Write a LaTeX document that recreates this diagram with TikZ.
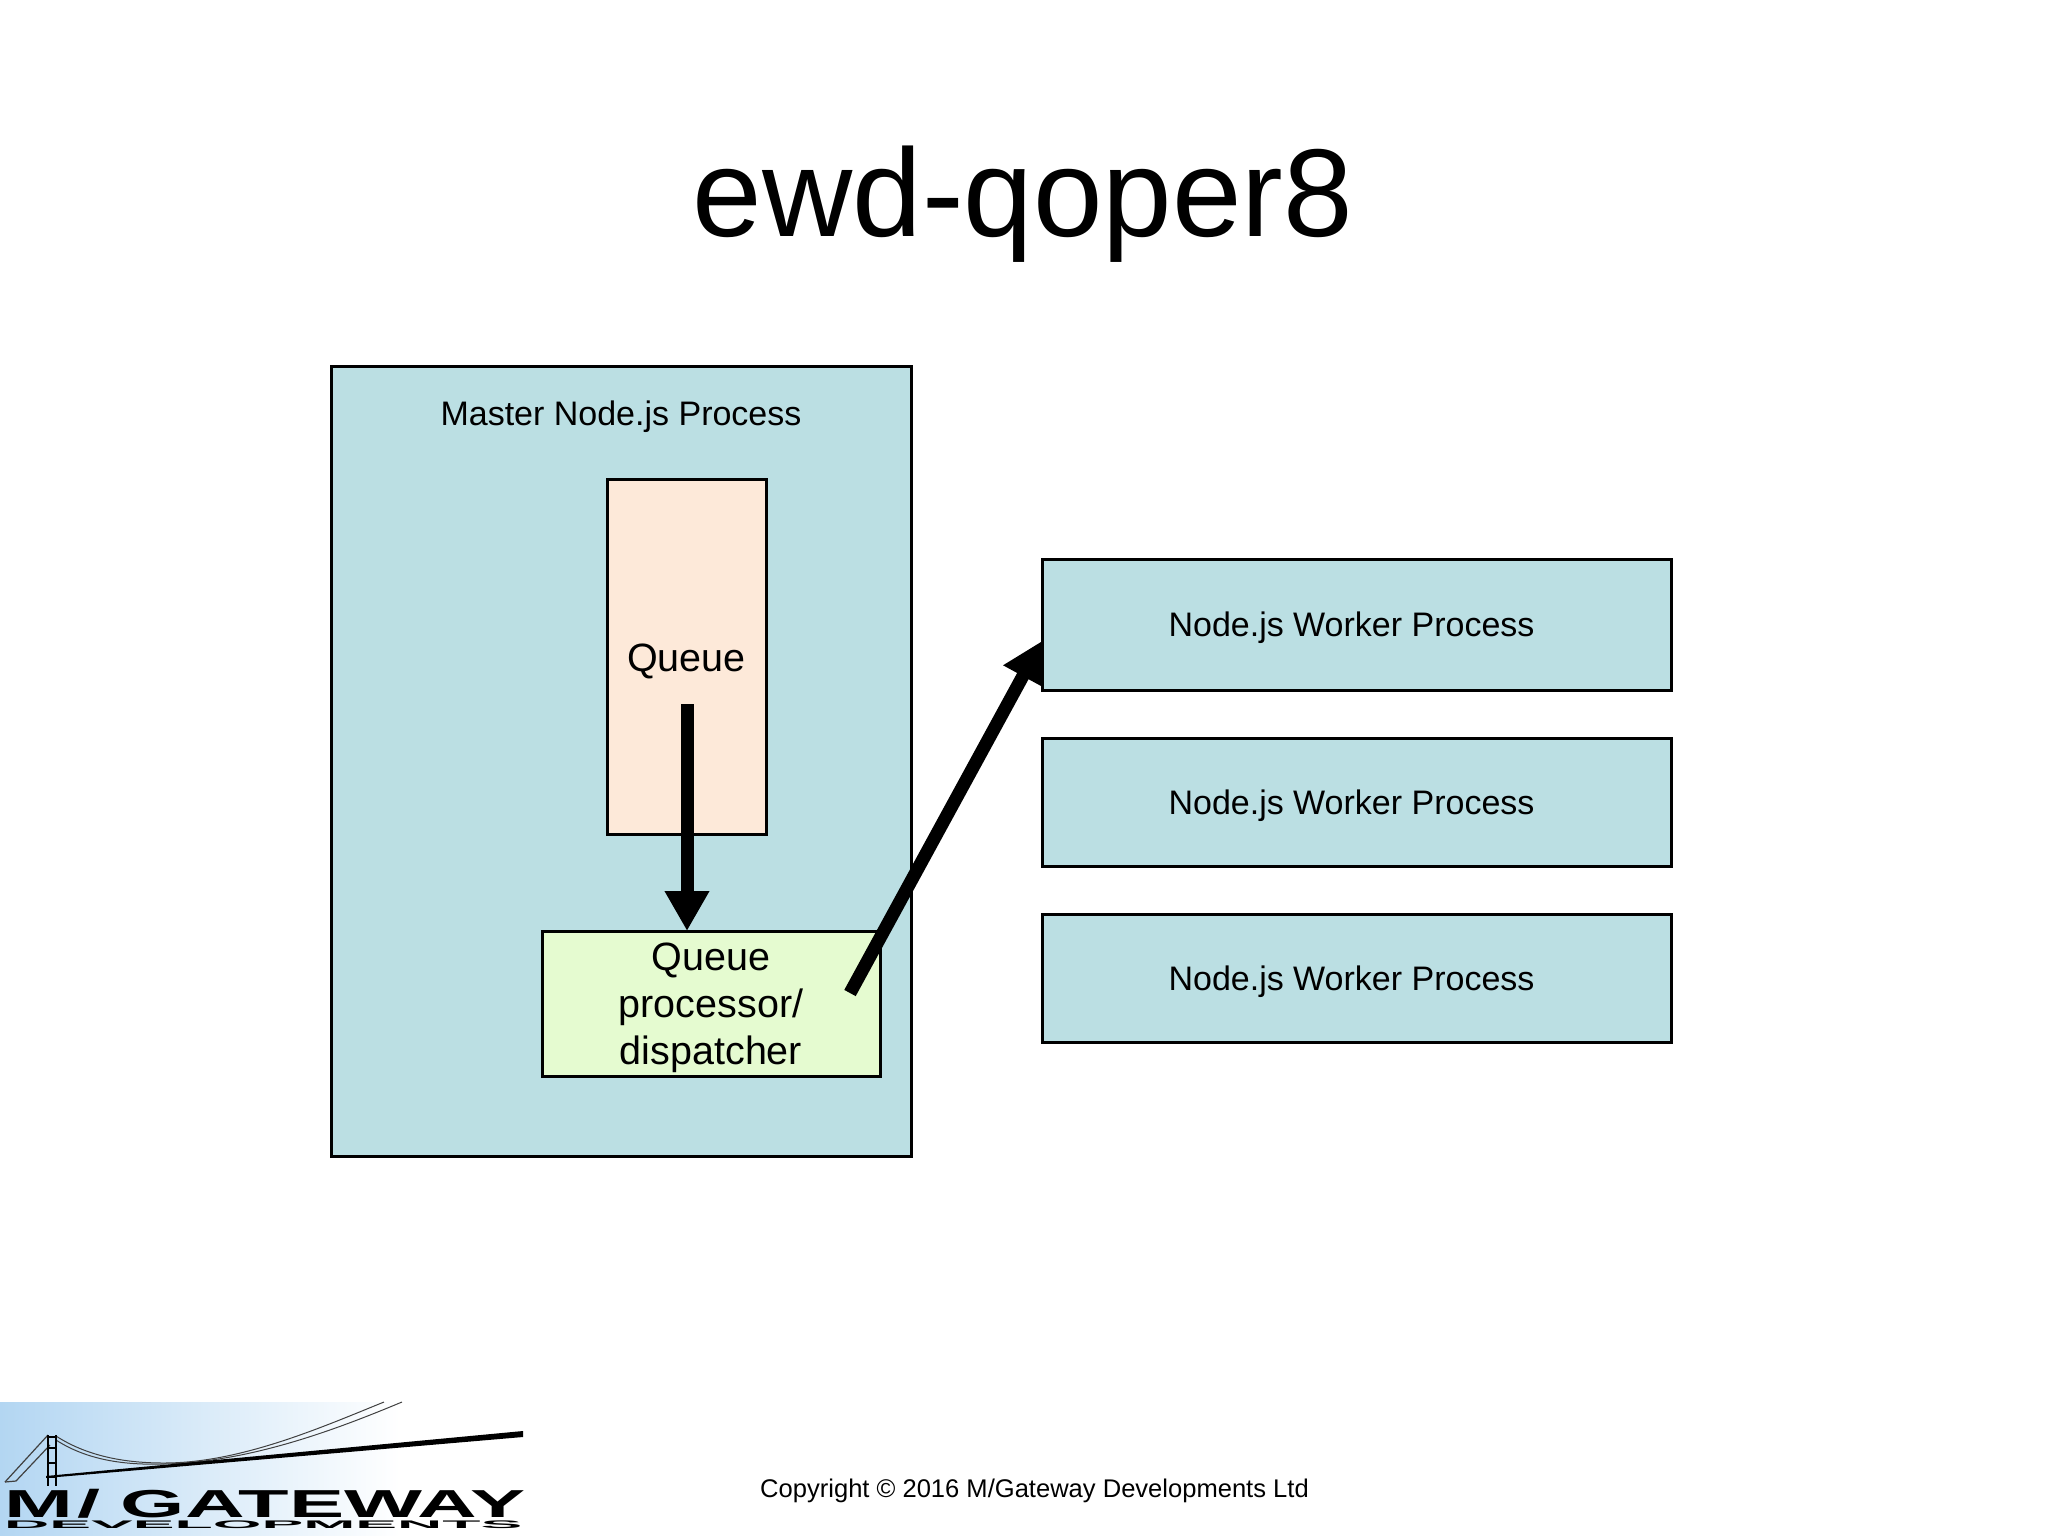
\documentclass[tikz,border=0pt]{standalone}
\usepackage{fontspec}
\usepackage{xcolor}
\usepackage{tikz}
\usetikzlibrary{positioning, arrows.meta}
\setmainfont{Liberation Sans}

\definecolor{procblue}{HTML}{BBDFE3}
\definecolor{queuepeach}{HTML}{FDE9D9}
\definecolor{dispgreen}{HTML}{E5FBD0}
\definecolor{logoblue}{HTML}{B3D6F2}

\begin{document}
\begin{tikzpicture}[x=1pt, y=-1pt,
                        box/.style={draw=black, line width=3pt, inner sep=0pt, outer sep=0pt, align=center},
                        worker/.style={box, fill=procblue, minimum width=629pt, minimum height=128pt,
                                       text height=30pt, text depth=6pt,
                                       font=\fontsize{34}{40}\selectfont},
                        flow/.style={-{Triangle[length=40pt, width=42pt]}, line width=13pt, black},
                        cable/.style={draw=black!75, line width=1pt}
                    ]

            \useasboundingbox (0,0) rectangle (2048,1536);

            \node (title) at (1023,204) {\fontsize{125}{130}\selectfont ewd-qoper8};

            % master process
            \node[box, fill=procblue, minimum width=580pt, minimum height=790pt] (master) at (621,761) {};
            \node[font=\fontsize{34}{40}\selectfont] (masterlabel) at (621,417) {Master Node.js Process};
            \node[box, fill=queuepeach, minimum width=159pt, minimum height=355pt, text height=31pt, text depth=2pt,
                  font=\fontsize{39.5}{47}\selectfont] (queue) at (686.5,656.5) {Queue};
            \node[box, fill=dispgreen, minimum width=338pt, minimum height=145pt,
                  font=\fontsize{39.5}{47}\selectfont] (dispatcher) at (711,1003.5) {\rule{0pt}{36pt}Queue\\processor/\\dispatcher};

            % workers
            \node[worker, minimum height=131pt] (worker1) at (1356.5,624.5) {Node.js Worker Process\hspace{10pt}};
            \node[worker, below=48pt of worker1] (worker2) {Node.js Worker Process\hspace{10pt}};
            \node[worker, below=48pt of worker2] (worker3) {Node.js Worker Process\hspace{10pt}};

            % arrows
            \coordinate (queueout) at (687,704);
            \coordinate (dispout) at (850,993);
            \draw[flow] (queueout) -- (queueout |- dispatcher.north);
            \draw[flow] (dispout) -- (worker1.183.5);

            % logo
            \fill[left color=logoblue, right color=white] (0,1402) rectangle (400,1536);
            \draw[cable] (56,1436) .. controls (90,1458) and (130,1463) .. (164,1463)
                               .. controls (240,1463) and (320,1428) .. (384,1402);
            \draw[cable] (56,1440) .. controls (90,1462) and (130,1465) .. (164,1464)
                               .. controls (250,1462) and (335,1430) .. (402,1402);
            \draw[cable, line width=1.2pt] (48,1435) -- (5,1482);
            \draw[cable, line width=1.2pt] (50,1445) -- (16,1481) -- (5,1482);
            \foreach \towerx in {48,56}
                \draw[line width=2pt] (\towerx,1435) -- (\towerx,1486);
            \foreach \rungy in {1437,1448,1463,1477}
                \draw[line width=1.5pt] (48,\rungy) -- (56,\rungy);
            \fill (46,1476) -- (523,1431) -- (523,1437) -- (46,1478) -- cycle;

            \node[anchor=base west, inner sep=0pt, font=\fontsize{39}{39}\bfseries\selectfont] (logotop) at (4,1517)
                {\scalebox{2.12}[1]{M\hspace{.05em}/\hspace{.25em}GATEWAY}};
            \node[anchor=base west, inner sep=0pt, font=\fontsize{11}{11}\bfseries\selectfont] (logobottom) at (4,1528)
                {\scalebox{5.69}[1]{DEVELOPMENTS}};

            \node[font=\fontsize{25.55}{30}\selectfont] (copyright) at (1034.5,1491) {Copyright © 2016 M/Gateway Developments Ltd};
\end{tikzpicture}
\end{document}
